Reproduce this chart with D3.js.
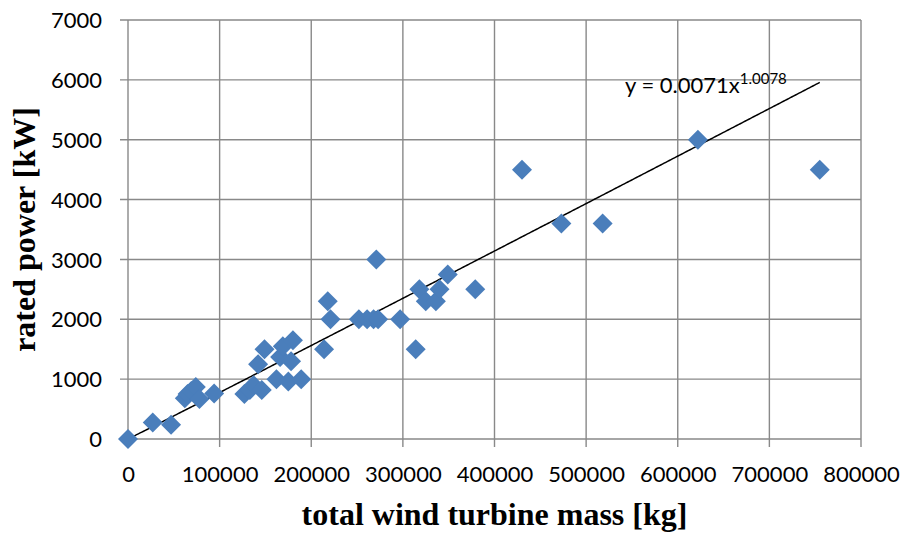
<!DOCTYPE html>
<html>
<head>
<meta charset="utf-8">
<script src="https://cdn.jsdelivr.net/npm/d3@7"></script>
<style>
  html, body { margin: 0; padding: 0; background: #fff; }
  svg { display: block; }
  .tick text { font-family: Lato, "Open Sans", sans-serif; font-size: 22px; fill: #000; }
</style>
</head>
<body>
<svg id="chart" width="906" height="535"></svg>
<script>
// Turbine mass [kg] and rated power [kW] for each turbine
const massKg = [
  0, 27000, 47000, 62000, 65000, 69000, 74000, 78000, 94000, 127000,
  133000, 137000, 146000, 142000, 149000, 162000, 166000, 169000, 175000, 178000,
  180000, 189000, 214000, 218000, 221000, 252000, 261000, 268000, 273000, 271000,
  297000, 314000, 318000, 325000, 336000, 340000, 349000, 379000, 430000, 473000,
  518000, 622000, 755000
];
const powerKw = [
  0, 275, 240, 680, 750, 800, 870, 670, 760, 750,
  820, 900, 820, 1250, 1500, 1000, 1370, 1550, 960, 1300,
  1650, 1000, 1500, 2300, 2000, 2000, 2000, 2000, 2000, 3000,
  2000, 1500, 2500, 2300, 2300, 2500, 2750, 2500, 4500, 3600,
  3600, 5000, 4500
];

// Axis ticks
const xTicks = [0, 100000, 200000, 300000, 400000, 500000, 600000, 700000, 800000];
const yTicks = [0, 1000, 2000, 3000, 4000, 5000, 6000, 7000];

// Power-law trend fit: y = a * x^b
const fitA = 0.0071;
const fitB = 1.0078;

const svg = d3.select("#chart");
const x = d3.scaleLinear().domain([0, 800000]).range([128, 861]);
const y = d3.scaleLinear().domain([0, 7000]).range([439, 20]);

const gridColor = "#898989";

// Horizontal gridlines (with tick marks left of the axis)
svg.append("g")
  .selectAll("line")
  .data(yTicks)
  .join("line")
  .attr("x1", x(0) - 8).attr("x2", x(800000))
  .attr("y1", d => y(d)).attr("y2", d => y(d))
  .attr("stroke", gridColor).attr("stroke-width", 1.4);

// Vertical gridlines (with tick marks below the axis)
svg.append("g")
  .selectAll("line")
  .data(xTicks)
  .join("line")
  .attr("x1", d => x(d)).attr("x2", d => x(d))
  .attr("y1", y(7000)).attr("y2", y(0) + 8)
  .attr("stroke", gridColor).attr("stroke-width", 1.4);

// Axis labels
const xAxis = d3.axisBottom(x).tickValues(xTicks).tickFormat(d3.format("d")).tickSize(0).tickPadding(27);
const gx = svg.append("g").attr("transform", `translate(0,${y(0)})`).call(xAxis);
gx.select(".domain").remove();

const yAxis = d3.axisLeft(y).tickValues(yTicks).tickFormat(d3.format("d")).tickSize(0).tickPadding(26);
const gy = svg.append("g").attr("transform", `translate(${x(0)},0)`).call(yAxis);
gy.select(".domain").remove();
gy.selectAll(".tick text").attr("dy", "0.35em");

// Trend line
const fitPts = d3.range(0, 401).map(i => {
  const xv = 1 + (d3.max(massKg) - 1) * i / 400;
  return [xv, fitA * Math.pow(xv, fitB)];
});
svg.append("path")
  .datum(fitPts)
  .attr("fill", "none")
  .attr("stroke", "#000")
  .attr("stroke-width", 1.5)
  .attr("d", d3.line().x(d => x(d[0])).y(d => y(d[1])));

// Data markers: diamonds
const pts = massKg.map((m, i) => ({ m, p: powerKw[i] }));
const diamond = d3.symbol().type(d3.symbolSquare).size(200);
svg.append("g")
  .selectAll("path")
  .data(pts)
  .join("path")
  .attr("d", diamond)
  .attr("transform", d => `translate(${x(d.m)},${y(d.p)}) rotate(45)`)
  .attr("fill", "#4a7ebb");

// Trend equation
const eq = svg.append("text")
  .attr("x", 625).attr("y", 93)
  .attr("font-family", "Lato, 'Open Sans', sans-serif")
  .attr("font-size", 22)
  .attr("fill", "#000");
eq.append("tspan").text(`y = ${fitA}x`);
eq.append("tspan").attr("dy", -9).attr("font-size", 15).text(fitB.toFixed(4));

// Axis titles
svg.append("text")
  .attr("x", (x(0) + x(800000)) / 2).attr("y", 525)
  .attr("text-anchor", "middle")
  .attr("font-family", "'Liberation Serif', 'Times New Roman', serif")
  .attr("font-weight", "bold")
  .attr("font-size", 32)
  .text("total wind turbine mass [kg]");

svg.append("text")
  .attr("transform", `translate(35,${(y(0) + y(7000)) / 2}) rotate(-90)`)
  .attr("text-anchor", "middle")
  .attr("font-family", "'Liberation Serif', 'Times New Roman', serif")
  .attr("font-weight", "bold")
  .attr("font-size", 32)
  .text("rated power [kW]");
</script>
</body>
</html>
